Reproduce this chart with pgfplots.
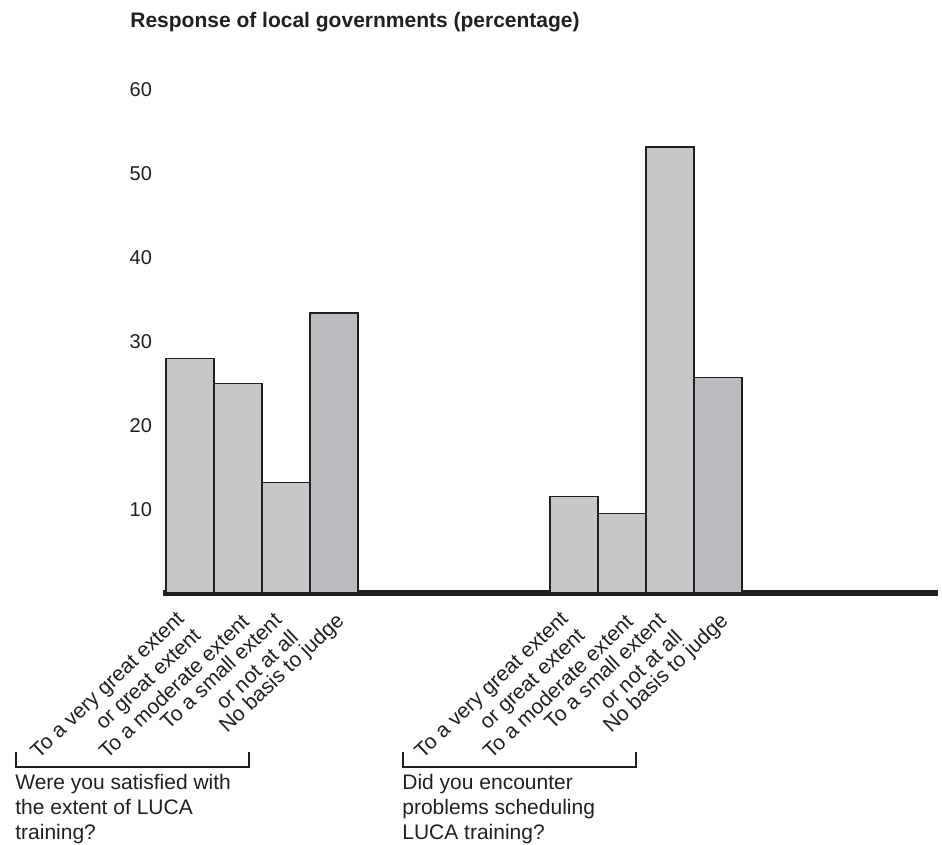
\documentclass[border=0pt]{standalone}
\usepackage{fontspec}
\setmainfont{Liberation Sans}
\usepackage{pgfplots}
\pgfplotsset{compat=1.18}
\definecolor{barlight}{HTML}{C6C7C9}
\definecolor{bardark}{HTML}{BBBCBF}
\definecolor{ink}{HTML}{231F20}
\newcommand{\tl}[2]{#1\hspace*{5pt}\\#2\hspace*{5pt}}
\begin{document}
\begin{tikzpicture}
\begin{axis}[
  x=24pt, y=4.1917pt,
  xmin=-0.5625, xmax=15.583, ymin=0, ymax=60,
  axis x line*=bottom, axis y line*=left,
  x axis line style={line width=3pt, -, draw=ink},
  y axis line style={draw=none},
  major tick length=0pt,
  ytick={10,20,...,60},
  xtick={0,1,2,3,8,9,10,11},
  xticklabels={{\tl{To a very great extent}{or great extent}},{To a moderate extent},{\tl{To a small extent}{or not at all}},{No basis to judge},{\tl{To a very great extent}{or great extent}},{To a moderate extent},{\tl{To a small extent}{or not at all}},{No basis to judge}},
  xticklabel style={xshift=3.8pt, yshift=-12.5pt, rotate=43.5, anchor=east, align=right, inner sep=0pt, font=\fontsize{10.5}{12}\selectfont, text=ink},
  yticklabel style={font=\fontsize{10}{12}\selectfont, text=ink, xshift=-2pt},
  /pgf/number format/assume math mode=true,
  clip=false,
  ybar=0pt, bar width=1,
]
\addplot[fill=barlight, draw=ink, line width=0.8pt, bar shift=0pt] coordinates {(0,28.0) (1,25.0) (2,13.2) (8,11.5) (9,9.5) (10,53.2)};
\addplot[fill=bardark, draw=ink, line width=0.8pt, bar shift=0pt] coordinates {(3,33.4) (11,25.7)};
\draw[ink, line width=0.75pt] (axis cs:-3.625,-18.97) -- (axis cs:-3.625,-20.75) -- (axis cs:1.229,-20.75) -- (axis cs:1.229,-18.97);
\draw[ink, line width=0.75pt] (axis cs:4.4375,-18.97) -- (axis cs:4.4375,-20.75) -- (axis cs:9.29,-20.75) -- (axis cs:9.29,-18.97);
\node[anchor=north west, align=left, inner sep=0pt, text=ink, font=\fontsize{10.5}{12.5}\selectfont] at (axis cs:-3.646,-21.6) {Were you satisfied with\\the extent of LUCA\\training?};
\node[anchor=north west, align=left, inner sep=0pt, text=ink, font=\fontsize{10.5}{12.5}\selectfont] at (axis cs:4.417,-21.6) {Did you encounter\\problems scheduling\\LUCA training?};
\node[anchor=base west, inner sep=0pt, text=ink, font=\bfseries\fontsize{10.5}{12}\selectfont] at (axis cs:-1.25,67.5) {Response of local governments (percentage)};
\coordinate (bl) at (axis cs:-3.958,-29.94);
\coordinate (tr) at (axis cs:15.667,70.74);
\end{axis}
\path (bl) rectangle (tr);
\end{tikzpicture}
\end{document}
